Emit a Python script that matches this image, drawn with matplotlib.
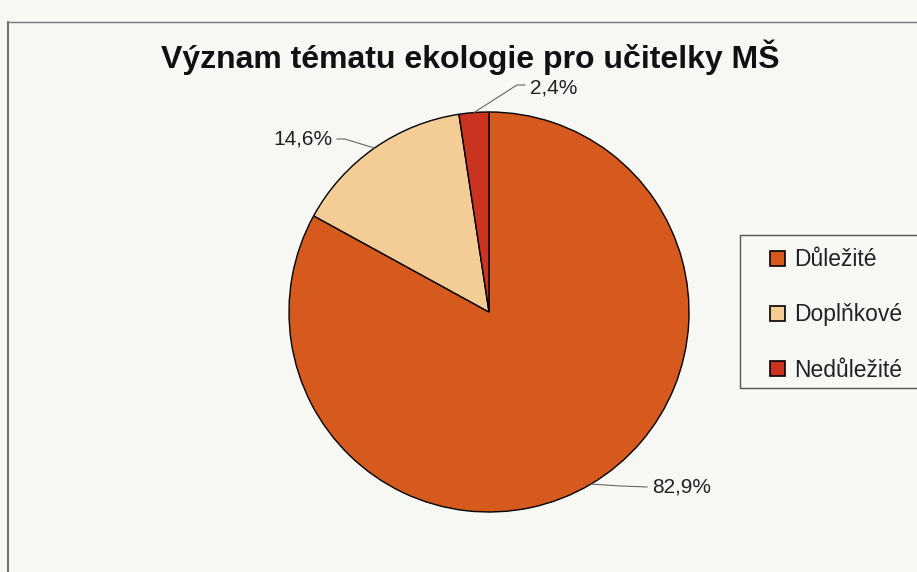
import numpy as np
import matplotlib
matplotlib.use('Agg')
import matplotlib.pyplot as plt
from matplotlib.lines import Line2D

title = 'Význam tématu ekologie pro učitelky MŠ'
categories = ['Důležité', 'Doplňkové', 'Nedůležité']
values = [82.9, 14.6, 2.4]
labels = ['82,9%', '14,6%', '2,4%']
colors = ['#d65a1e', '#f4cd96', '#c9331f']

plt.rcParams['font.family'] = ['Liberation Sans', 'DejaVu Sans']

fig = plt.figure(figsize=(9.17, 5.72), dpi=100)
fig.patch.set_facecolor('#f7f7f4')

# frame lines of the scanned chart area
fig.add_artist(Line2D([8/917, 8/917], [0, 1 - 22/572], color='#555555', lw=1.2))
fig.add_artist(Line2D([8/917, 1], [1 - 22/572, 1 - 22/572], color='#777777', lw=1.0))

ax = fig.add_axes([(489 - 200) / 917, (572 - 512) / 572, 400 / 917, 400 / 572])
wedges, _ = ax.pie(values, colors=colors, startangle=90, counterclock=False,
                   wedgeprops=dict(edgecolor='black', linewidth=1.0))
ax.set_aspect('equal')
ax.set_xlim(-1, 1)
ax.set_ylim(-1, 1)
ax.axis('off')

# data labels with leader lines (elbow + text), in pie-radius units
elbow = [(0.66, -0.87), (-0.72, 0.865), (0.14, 1.135)]
line_end = [(0.79, -0.875), (-0.76, 0.865), (0.18, 1.135)]
text_pos = [(0.815, -0.875), (-0.785, 0.865), (0.205, 1.12)]
aligns = ['left', 'right', 'left']
for w, lab, el, le, tp, ha in zip(wedges, labels, elbow, line_end, text_pos, aligns):
    ang = np.deg2rad((w.theta1 + w.theta2) / 2)
    x0, y0 = np.cos(ang), np.sin(ang)
    ax.plot([x0, el[0], le[0]], [y0, el[1], le[1]], color='#666666', lw=0.8,
            clip_on=False)
    ax.text(tp[0], tp[1], lab, ha=ha, va='center', fontsize=15, color='#222222',
            clip_on=False)

fig.text(470 / 917, 1 - 57 / 572, title, ha='center', va='center',
         fontsize=23, fontweight='bold', color='#111111')

# legend box (runs past the right edge as in the scan)
fig.add_artist(plt.Rectangle((740 / 917, 1 - 388 / 572), 200 / 917, 153 / 572,
                             transform=fig.transFigure, facecolor='none',
                             edgecolor='#555555', lw=1.0, clip_on=False))
handles = [plt.Rectangle((0, 0), 1, 1, facecolor=c, edgecolor='black', lw=1.2)
           for c in colors]
leg = fig.legend(handles, categories, loc='center left',
                 bbox_to_anchor=(770 / 917, 1 - 315 / 572), fontsize=16.5,
                 frameon=False, handlelength=0.65, handleheight=0.65,
                 handletextpad=0.4, labelspacing=1.4, borderpad=0,
                 borderaxespad=0)
for t in leg.get_texts():
    t.set_color('#222222')

fig.savefig('out.png', dpi=100, facecolor=fig.get_facecolor())
